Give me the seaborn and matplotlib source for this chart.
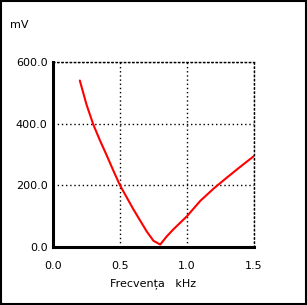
import matplotlib
matplotlib.use("Agg")
import matplotlib.pyplot as plt
import seaborn as sns
import pandas as pd
from matplotlib.patches import Rectangle

freq_khz = [0.2, 0.25, 0.3, 0.35, 0.4, 0.45, 0.5, 0.6, 0.7, 0.75, 0.8, 0.85, 0.9, 1.0, 1.1, 1.2, 1.3, 1.4, 1.5]
voltage_mv = [540, 462, 398, 346, 298, 248, 200, 122, 50, 20, 8, 35, 58, 100, 150, 190, 226, 261, 295]
x_ticks = [0.0, 0.5, 1.0, 1.5]
y_ticks = [0.0, 200.0, 400.0, 600.0]

df = pd.DataFrame({"f": freq_khz, "v": voltage_mv})

sns.set_style("white")
plt.rcParams["font.family"] = ["DejaVu Sans"]
plt.rcParams["text.color"] = "black"
plt.rcParams["xtick.color"] = "black"
plt.rcParams["ytick.color"] = "black"
plt.rcParams["axes.labelcolor"] = "black"

fig = plt.figure(figsize=(3.07, 3.05), dpi=100)
ax = fig.add_axes([53/307, 58/305, (254-53)/307, (247-62)/305])

sns.lineplot(data=df, x="f", y="v", ax=ax, color="#ff0000", linewidth=1.5)

ax.set_xlim(0, 1.5)
ax.set_ylim(0, 600)
ax.set_xticks(x_ticks)
ax.set_yticks(y_ticks)
ax.set_xticklabels([f"{t:.1f}" for t in x_ticks], fontsize=8)
ax.set_yticklabels([f"{t:.1f}" for t in y_ticks], fontsize=8)
ax.tick_params(axis="x", length=0, pad=10)
ax.tick_params(axis="y", length=0, pad=4)
ax.grid(True, color="black", linestyle=(0, (1, 2)), linewidth=1.0)

for s in ["left", "bottom"]:
    ax.spines[s].set_linewidth(2.2)
    ax.spines[s].set_color("black")
for s in ["top", "right"]:
    ax.spines[s].set_linestyle((0, (1, 2)))
    ax.spines[s].set_linewidth(1.0)
    ax.spines[s].set_color("black")

ax.set_xlabel("Frecvența   kHz", fontsize=8, labelpad=5, color="black")
ax.set_ylabel("")
fig.text(10/307, 1 - 25/305, "mV", fontsize=8, va="center", ha="left", color="black")

fig.patches.append(Rectangle((0.003, 0.003), 0.994, 0.994, transform=fig.transFigure,
                             fill=False, edgecolor="black", linewidth=1.5))

fig.savefig("out.png", dpi=100)
